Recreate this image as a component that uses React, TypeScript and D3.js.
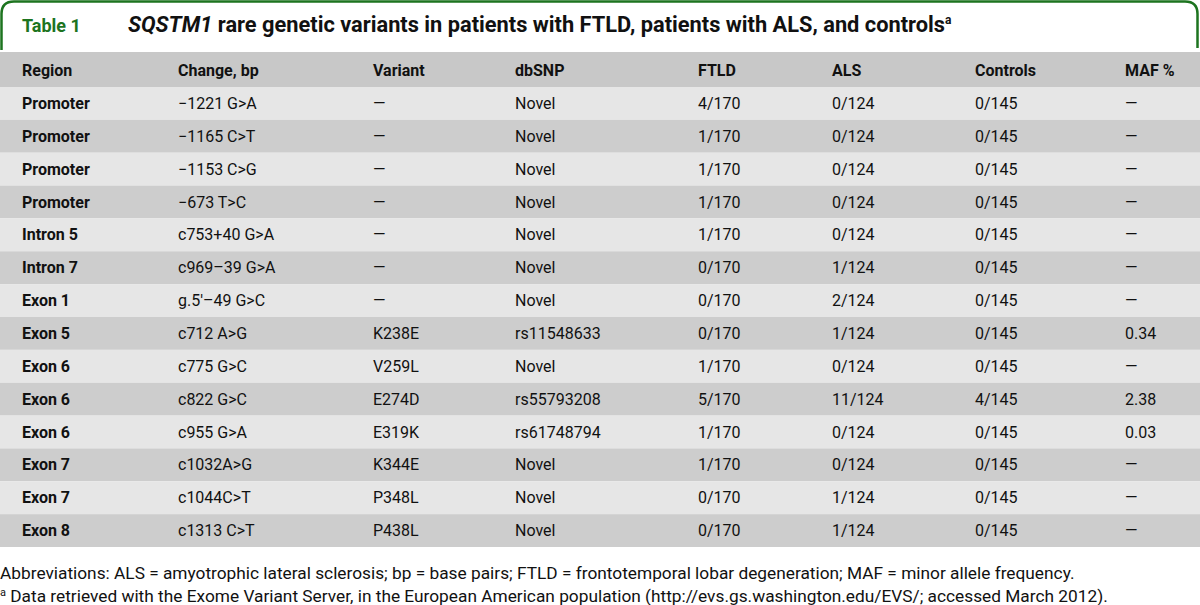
import React from "react";
import * as d3 from "d3";

const headers = ["Region", "Change, bp", "Variant", "dbSNP", "FTLD", "ALS", "Controls", "MAF %"];
const regions = ["Promoter", "Promoter", "Promoter", "Promoter", "Intron 5", "Intron 7", "Exon 1", "Exon 5", "Exon 6", "Exon 6", "Exon 6", "Exon 7", "Exon 7", "Exon 8"];
const changes = ["\u22121221 G>A", "\u22121165 C>T", "\u22121153 C>G", "\u2212673 T>C", "c753+40 G>A", "c969\u201339 G>A", "g.5\u2032\u201349 G>C", "c712 A>G", "c775 G>C", "c822 G>C", "c955 G>A", "c1032A>G", "c1044C>T", "c1313 C>T"];
const variants = ["\u2014", "\u2014", "\u2014", "\u2014", "\u2014", "\u2014", "\u2014", "K238E", "V259L", "E274D", "E319K", "K344E", "P348L", "P438L"];
const dbsnp = ["Novel", "Novel", "Novel", "Novel", "Novel", "Novel", "Novel", "rs11548633", "Novel", "rs55793208", "rs61748794", "Novel", "Novel", "Novel"];
const ftld = ["4/170", "1/170", "1/170", "1/170", "1/170", "0/170", "0/170", "0/170", "1/170", "5/170", "1/170", "1/170", "0/170", "0/170"];
const als = ["0/124", "0/124", "0/124", "0/124", "0/124", "1/124", "2/124", "1/124", "0/124", "11/124", "0/124", "0/124", "1/124", "1/124"];
const controls = ["0/145", "0/145", "0/145", "0/145", "0/145", "0/145", "0/145", "0/145", "0/145", "4/145", "0/145", "0/145", "0/145", "0/145"];
const maf = ["\u2014", "\u2014", "\u2014", "\u2014", "\u2014", "\u2014", "\u2014", "0.34", "\u2014", "2.38", "0.03", "\u2014", "\u2014", "\u2014"];

const footnote1 = "Abbreviations: ALS = amyotrophic lateral sclerosis; bp = base pairs; FTLD = frontotemporal lobar degeneration; MAF = minor allele frequency.";
const footnote2 = " Data retrieved with the Exome Variant Server, in the European American population (http://evs.gs.washington.edu/EVS/; accessed March 2012).";

const W = 1200;
const H = 605;
const FONT = "Roboto, 'Liberation Sans', sans-serif";
const GREEN = "#1d741f";
const colX = [22, 178, 373, 515, 698, 832, 975, 1125];

export default function App() {
  const columns = [regions, changes, variants, dbsnp, ftld, als, controls, maf];
  const rowIdx = d3.range(regions.length);
  const y = d3.scaleBand<number>().domain(rowIdx).range([87, 547]).paddingInner(0);
  const bh = y.bandwidth();

  return (
    <svg width={W} height={H} style={{ position: "absolute", left: 0, top: 0, display: "block" }} fontFamily={FONT}>
      <rect x={0} y={0} width={W} height={H} fill="#fff" />
      <path d={`M1.5,50 L1.5,14 Q1.5,1.5 14,1.5 L1185,1.5 Q1197.5,1.5 1197.5,14 L1197.5,48`} fill="none" stroke={GREEN} strokeWidth={2.5} />
      <text x={22} y={32} fontSize={18} fontWeight={700} fill={GREEN}>Table 1</text>
      <text x={128} y={32} fontSize={21.8} fontWeight={700} fill="#111">
        <tspan fontStyle="italic">SQSTM1</tspan>
        <tspan> rare genetic variants in patients with FTLD, patients with ALS, and controls</tspan>
        <tspan fontSize={12} dy={-8}>a</tspan>
      </text>
      <rect x={0} y={52} width={W} height={35} fill="#c8c8c8" />
      {headers.map((h, i) => (
        <text key={h} x={colX[i]} y={76} fontSize={16} fontWeight={700} fill="#111">{h}</text>
      ))}
      {rowIdx.map((r) => (
        <g key={r}>
          <rect x={0} y={y(r)} width={W} height={bh} fill={r % 2 === 0 ? "#e6e6e6" : "#cdcdcd"} />
          {columns.map((col, c) => (
            <text key={c} x={colX[c]} y={(y(r) as number) + bh / 2 + 5.5} fontSize={16} fontWeight={c === 0 ? 700 : 400} fill="#111">{col[r]}</text>
          ))}
        </g>
      ))}
      <text x={0} y={579} fontSize={17.3} fill="#111">{footnote1}</text>
      <text x={0} y={602} fontSize={17.3} fill="#111">
        <tspan fontSize={11} dy={-6}>a</tspan>
        <tspan dy={6}>{footnote2}</tspan>
      </text>
    </svg>
  );
}
